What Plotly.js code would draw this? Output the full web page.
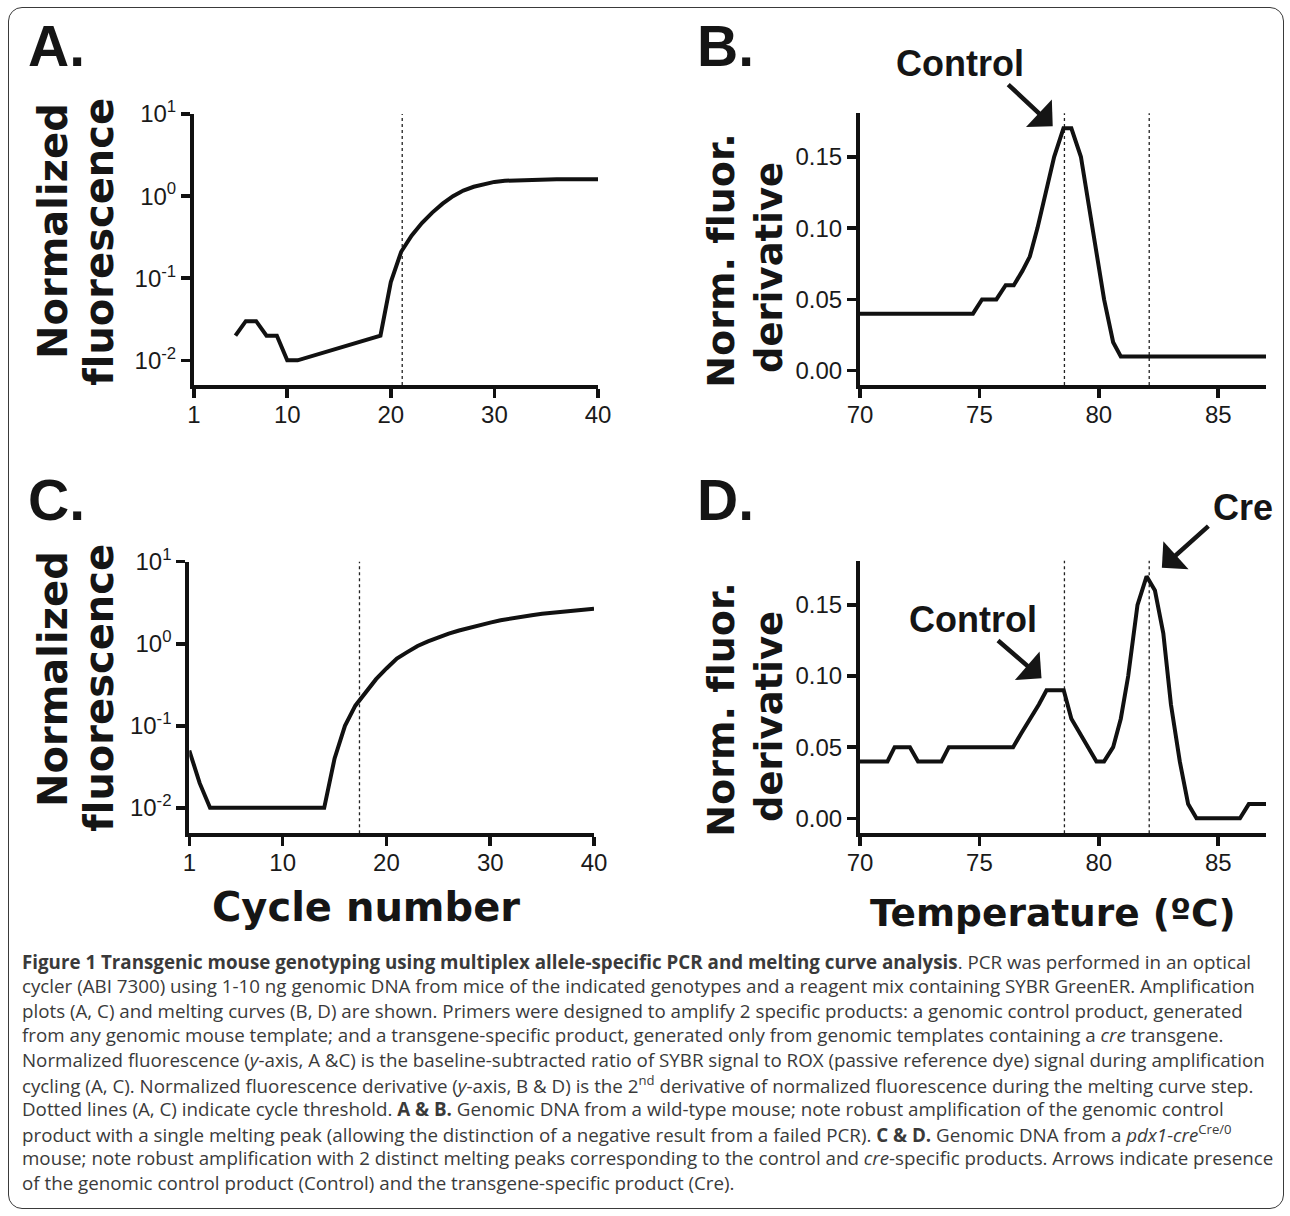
<!DOCTYPE html>
<html>
<head>
<meta charset="utf-8">
<script src="https://cdn.plot.ly/plotly-3.0.1.min.js"></script>
<style>
  html, body { margin: 0; padding: 0; background: #fff; }
  #wrap { position: relative; width: 1290px; height: 1216px; }
  #chart { position: absolute; left: 0; top: 0; width: 1290px; height: 1216px; }
  #chart text, #chart tspan { font-variant-ligatures: none !important; font-feature-settings: "liga" 0, "clig" 0 !important; }
  #frame { position: absolute; left: 8px; top: 7px; width: 1276px; height: 1202px;
           box-sizing: border-box; border: 1.5px solid #3a3a3a; border-radius: 14px; pointer-events: none; }
</style>
</head>
<body>
<div id="wrap"><div id="chart"></div><div id="frame"></div></div>
<script>
// ---------------- DATA ----------------
// Panel A: amplification plot, wild-type
const cycleA = [5, 6, 7, 8, 9, 10, 11, 19, 20, 21, 22, 23, 24, 25, 26, 27, 28, 29, 30, 31, 32, 33, 34, 35, 36, 37, 38, 39, 40];
const fluorA = [0.02, 0.03, 0.03, 0.02, 0.02, 0.01, 0.01, 0.02, 0.09, 0.21, 0.33, 0.47, 0.63, 0.81, 1.0, 1.17, 1.3, 1.41, 1.49, 1.54, 1.56, 1.58, 1.59, 1.6, 1.6, 1.6, 1.6, 1.6, 1.6];
const thresholdA = 21.1;

// Panel B: melting curve, wild-type
const tempB = [70, 74.73, 75.11, 75.71, 76.10, 76.44, 76.80, 77.11, 77.43, 77.78, 78.13, 78.52, 78.85, 79.25, 79.73, 80.22, 80.6, 80.92, 87];
const derivB = [0.04, 0.04, 0.05, 0.05, 0.06, 0.06, 0.07, 0.08, 0.10, 0.125, 0.15, 0.17, 0.17, 0.15, 0.10, 0.05, 0.02, 0.01, 0.01];
const meltLinesB = [78.56, 82.11];

// Panel C: amplification plot, pdx1-cre
const cycleC = [1, 2, 3, 14, 15, 16, 17, 18, 19, 20, 21, 22, 23, 24, 25, 26, 27, 28, 29, 30, 31, 32, 33, 34, 35, 36, 37, 38, 39, 40];
const fluorC = [0.05, 0.02, 0.01, 0.01, 0.04, 0.10, 0.176, 0.26, 0.37, 0.50, 0.66, 0.79, 0.94, 1.07, 1.2, 1.33, 1.45, 1.57, 1.69, 1.81, 1.93, 2.04, 2.13, 2.23, 2.32, 2.40, 2.48, 2.56, 2.62, 2.68];
const thresholdC = 17.4;

// Panel D: melting curve, pdx1-cre
const tempD = [70, 71.15, 71.45, 72.09, 72.43, 73.41, 73.72, 76.41, 76.76, 77.14, 77.49, 77.81, 78.53, 78.85, 79.2, 79.55, 79.9, 80.22, 80.6, 80.92, 81.23, 81.62, 82.0, 82.35, 82.7, 83.02, 83.39, 83.74, 84.09, 85.91, 86.28, 87];
const derivD = [0.04, 0.04, 0.05, 0.05, 0.04, 0.04, 0.05, 0.05, 0.06, 0.07, 0.08, 0.09, 0.09, 0.07, 0.06, 0.05, 0.04, 0.04, 0.05, 0.07, 0.10, 0.15, 0.17, 0.16, 0.13, 0.08, 0.04, 0.01, 0.00, 0.00, 0.01, 0.01];
const meltLinesD = [78.56, 82.11];

// Arrow targets (peak labels)
const arrowB = {label: 'Control', x: 78.07, y: 0.1715};
const arrowDControl = {label: 'Control', x: 77.6, y: 0.0985};
const arrowDCre = {label: 'Cre', x: 82.64, y: 0.176};

// Tick labels
const cycleTicks = [1, 10, 20, 30, 40];
const logTickVals = [0.01, 0.1, 1, 10];
const logTickText = ['10<sup>-2</sup>', '10<sup>-1</sup>', '10<sup>0</sup>', '10<sup>1</sup>'];
const tempTicks = [70, 75, 80, 85];
const derivTicks = [0, 0.05, 0.10, 0.15];

const captionLines = [
  '<b>Figure 1 Transgenic mouse genotyping using multiplex allele-specific PCR and melting curve analysis</b>. PCR was performed in an optical',
  'cycler (ABI 7300) using 1-10 ng genomic DNA from mice of the indicated genotypes and a reagent mix containing SYBR GreenER. Amplification',
  'plots (A, C) and melting curves (B, D) are shown. Primers were designed to amplify 2 specific products: a genomic control product, generated',
  'from any genomic mouse template; and a transgene-specific product, generated only from genomic templates containing a <i>cre</i> transgene.',
  'Normalized fluorescence (<i>y</i>-axis, A &amp;C) is the baseline-subtracted ratio of SYBR signal to ROX (passive reference dye) signal during amplification',
  'cycling (A, C). Normalized fluorescence derivative (<i>y</i>-axis, B &amp; D) is the 2<sup>nd</sup> derivative of normalized fluorescence during the melting curve step.',
  'Dotted lines (A, C) indicate cycle threshold. <b>A &amp; B.</b> Genomic DNA from a wild-type mouse; note robust amplification of the genomic control',
  'product with a single melting peak (allowing the distinction of a negative result from a failed PCR). <b>C &amp; D.</b> Genomic DNA from a <i>pdx1-cre</i><sup>Cre/0</sup>',
  'mouse; note robust amplification with 2 distinct melting peaks corresponding to the control and <i>cre</i>-specific products. Arrows indicate presence',
  'of the genomic control product (Control) and the transgene-specific product (Cre).'
];

// ---------------- LAYOUT HELPERS ----------------
const W = 1290, H = 1216;
const px = v => v / W;
const py = v => 1 - v / H;
const INK = '#111';
const tickFont = {family: 'Liberation Sans, Arial, sans-serif', size: 24, color: '#1a1a1a'};

function baseAxis(standoff) {
  return {showline: true, linewidth: 4, linecolor: INK, ticks: 'outside', ticklen: 9, tickwidth: 3.5,
    tickcolor: INK, showgrid: false, zeroline: false, tickfont: tickFont, fixedrange: true, ticklabelstandoff: standoff};
}
function xAxis(domain, range, tickvals, anchor) {
  return Object.assign(baseAxis(-4), {domain: domain, range: range, tickvals: tickvals, anchor: anchor});
}
function yAxisLog(domain, range, anchor) {
  return Object.assign(baseAxis(0), {domain: domain, type: 'log', range: range, tickvals: logTickVals, ticktext: logTickText, anchor: anchor});
}
function yAxisLin(domain, range, anchor) {
  return Object.assign(baseAxis(0), {domain: domain, range: range, tickvals: derivTicks, tickformat: '.2f', anchor: anchor});
}

const lineStyle = {color: INK, width: 4, shape: 'linear'};
const traces = [
  {x: cycleA, y: fluorA, xaxis: 'x', yaxis: 'y', mode: 'lines', line: lineStyle, hoverinfo: 'skip'},
  {x: tempB, y: derivB, xaxis: 'x2', yaxis: 'y2', mode: 'lines', line: lineStyle, hoverinfo: 'skip'},
  {x: cycleC, y: fluorC, xaxis: 'x3', yaxis: 'y3', mode: 'lines', line: lineStyle, hoverinfo: 'skip'},
  {x: tempD, y: derivD, xaxis: 'x4', yaxis: 'y4', mode: 'lines', line: lineStyle, hoverinfo: 'skip'}
];

function vline(xref, yref, xv) {
  return {type: 'line', xref: xref, yref: yref + ' domain', x0: xv, x1: xv, y0: 0, y1: 1,
    line: {color: '#222', width: 1.3, dash: 'dot'}, layer: 'below'};
}
const shapes = [vline('x', 'y', thresholdA), vline('x3', 'y3', thresholdC)]
  .concat(meltLinesB.map(v => vline('x2', 'y2', v)))
  .concat(meltLinesD.map(v => vline('x4', 'y4', v)));

const titleFont = s => ({family: 'DejaVu Sans, sans-serif', size: s, color: '#151515', weight: 'bold'});
const labelFont = s => ({family: 'Liberation Sans, Arial, sans-serif', size: s, color: '#151515', weight: 'bold'});
function txt(text, x, y, font, angle) {
  return {text: text, x: px(x), y: py(y), xref: 'paper', yref: 'paper', xanchor: 'center', yanchor: 'middle',
    showarrow: false, font: font, textangle: angle || 0};
}
function arrow(t, xref, yref, ax, ay) {
  return {text: '', x: t.x, y: t.y, xref: xref, yref: yref, ax: ax, ay: ay, axref: 'pixel', ayref: 'pixel',
    showarrow: true, arrowhead: 1, arrowwidth: 4.5, arrowsize: 1.4, arrowcolor: '#151515', standoff: 0};
}

const annotations = [
  // panel letters
  txt('A.', 56, 46, labelFont(57)), txt('B.', 725, 46, labelFont(57)),
  txt('C.', 56, 500, labelFont(57)), txt('D.', 725, 500, labelFont(57)),
  // y titles
  txt('Normalized', 53, 231, titleFont(40), -90), txt('fluorescence', 99, 242, titleFont(40), -90),
  txt('Norm. fluor.', 721, 261, titleFont(38), -90), txt('derivative', 769, 268, titleFont(37), -90),
  txt('Normalized', 53, 679, titleFont(40), -90), txt('fluorescence', 99, 688, titleFont(40), -90),
  txt('Norm. fluor.', 721, 710, titleFont(38), -90), txt('derivative', 769, 717, titleFont(37), -90),
  // x titles
  txt('Cycle number', 366, 907, titleFont(40)), txt('Temperature (ºC)', 1053, 913, titleFont(37.5)),
  // peak labels
  txt(arrowB.label, 960, 64, labelFont(36)),
  txt(arrowDControl.label, 973, 619, labelFont(36)),
  txt(arrowDCre.label, 1243, 507, labelFont(36)),
  arrow(arrowB, 'x2', 'y2', -46, -43),
  arrow(arrowDControl, 'x4', 'y4', -45, -39),
  arrow(arrowDCre, 'x4', 'y4', 48, -43)
];
captionLines.forEach((line, i) => {
  annotations.push({text: line, x: px(20), y: py(961 + 24.6 * i), xref: 'paper', yref: 'paper',
    xanchor: 'left', yanchor: 'middle', showarrow: false, align: 'left',
    font: {family: 'Open Sans, sans-serif', size: 18.75, color: '#3a3a3a'}});
});

const layout = {
  width: W, height: H, margin: {l: 0, r: 0, t: 0, b: 0, pad: 0},
  paper_bgcolor: '#fff', plot_bgcolor: 'rgba(0,0,0,0)', showlegend: false,
  xaxis: xAxis([px(194), px(598)], [1, 40], cycleTicks, 'y'),
  yaxis: yAxisLog([py(385), py(114)], [-2.30, 1], 'x'),
  xaxis2: xAxis([px(860), px(1266)], [70, 87], tempTicks, 'y2'),
  yaxis2: yAxisLin([py(385), py(113.3)], [-0.01, 0.1805], 'x2'),
  xaxis3: xAxis([px(189.3), px(594)], [1, 40], cycleTicks, 'y3'),
  yaxis3: yAxisLog([py(833.3), py(561.7)], [-2.31, 1], 'x3'),
  xaxis4: xAxis([px(860), px(1266)], [70, 87], tempTicks, 'y4'),
  yaxis4: yAxisLin([py(833.3), py(560.7)], [-0.0105, 0.181], 'x4'),
  shapes: shapes,
  annotations: annotations
};

Plotly.newPlot('chart', traces, layout, {staticPlot: true, displayModeBar: false});
</script>
</body>
</html>
